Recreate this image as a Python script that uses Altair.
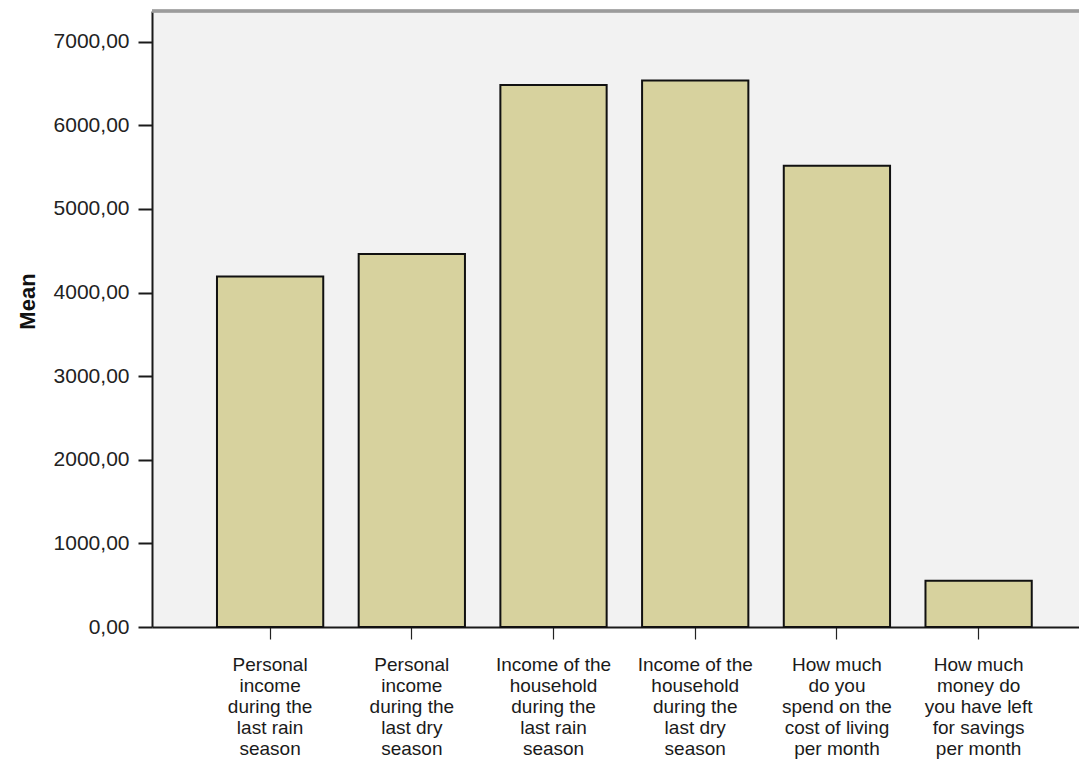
import altair as alt
import pandas as pd

categories = [
    "Personal|income|during the|last rain|season",
    "Personal|income|during the|last dry|season",
    "Income of the|household|during the|last rain|season",
    "Income of the|household|during the|last dry|season",
    "How much|do you|spend on the|cost of living|per month",
    "How much|money do|you have left|for savings|per month",
]
means = [4193, 4461, 6482, 6538, 5517, 554]
y_ticks = [0, 1000, 2000, 3000, 4000, 5000, 6000, 7000]

df = pd.DataFrame({"cat": categories, "mean": means})

W = 927
H = 616
FONT = "Liberation Sans"

bars = alt.Chart(df).mark_bar(
    fill="#d7d29e", stroke="#111111", strokeWidth=2
).encode(
    x=alt.X(
        "cat:N",
        sort=categories,
        title=None,
        scale=alt.Scale(paddingInner=0.25, paddingOuter=0.396, align=0.579),
        axis=alt.Axis(
            labelExpr="split(datum.label, '|')",
            labelAngle=0,
            labelAlign="center",
            labelBaseline="top",
            labelFont=FONT,
            labelFontSize=19,
            labelLineHeight=21,
            labelColor="#1a1a1a",
            labelPadding=16,
            labelLimit=0,
            tickSize=12,
            tickColor="#222222",
            tickWidth=1.2,
            domainColor="#1a1a1a",
            domainWidth=2,
            grid=False,
        ),
    ),
    y=alt.Y(
        "mean:Q",
        title="Mean",
        scale=alt.Scale(domain=[0, 7368], nice=False, zero=True),
        axis=alt.Axis(
            values=y_ticks,
            labelExpr="replace(format(datum.value, '.2f'), '.', ',')",
            labelFont=FONT,
            labelFontSize=21,
            labelColor="#222222",
            labelPadding=9,
            tickSize=14,
            tickWidth=2,
            tickColor="#1a1a1a",
            domainColor="#1a1a1a",
            domainWidth=2,
            grid=False,
            titleFont=FONT,
            titleFontSize=22,
            titleFontWeight="bold",
            titleColor="#111111",
            titleAngle=270,
            titleAlign="center",
            titleBaseline="middle",
            titleX=-125,
            titleY=290,
        ),
    ),
)

top_line = alt.Chart(df).mark_rule(color="#9c9c9c", strokeWidth=2.5).encode(
    x=alt.value(0), x2=alt.value(W + 20), y=alt.value(0)
)

chart = alt.layer(bars, top_line).properties(
    width=W,
    height=H,
    autosize=alt.AutoSizeParams(type="none"),
    padding={"left": 144, "top": 3, "right": 0, "bottom": 132},
    background="white",
).configure_view(stroke=None, fill="#f2f2f2")

chart.save("out.html", embed_options={"renderer": "svg", "actions": False})
